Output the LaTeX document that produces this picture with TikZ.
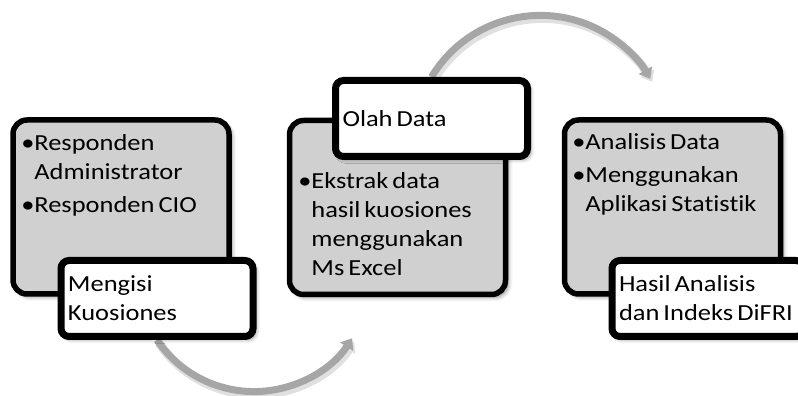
\documentclass[tikz,border=0pt]{standalone}
\usepackage{fontspec}
\setmainfont{Carlito}[FakeStretch=1.15, WordSpace=0.68, RawFeature=-liga]
\usetikzlibrary{arrows.meta,positioning,shadows.blur,backgrounds}

\definecolor{boxgray}{RGB}{208,208,208}
\definecolor{flowgray}{RGB}{166,166,166}

\newcommand{\bulitem}{\makebox[6.5pt][l]{\textbullet}}
\newcommand{\fontspaces}{\spaceskip=0pt\relax}

\begin{document}
\begin{tikzpicture}[
	x=0.5pt, y=0.5pt,
	stage/.style={
		rectangle,
		rounded corners=7pt,
		draw=black,
		line width=2.75pt,
		fill=boxgray,
		minimum width=108pt,
		minimum height=87pt,
		blur shadow={shadow xshift=1.5pt, shadow yshift=-1.5pt, shadow blur radius=2pt, shadow opacity=45}
	},
	tag/.style={
		rectangle,
		rounded corners=4pt,
		draw=black,
		line width=3.5pt,
		fill=white,
		text width=89pt,
		minimum height=38pt,
		align=left,
		inner xsep=3.5pt,
		font=\fontsize{11.5}{14.5}\selectfont,
		execute at begin node=\fontspaces,
		blur shadow={shadow xshift=1.5pt, shadow yshift=-1.5pt, shadow blur radius=2pt, shadow opacity=45}
	},
	items/.style={anchor=north west, inner sep=0pt, font=\fontsize{11.5}{14.5}\selectfont},
	flow/.style={
		-{Triangle[length=5pt,width=7.5pt]},
		line width=3.5pt,
		flowgray,
		preaction={draw=black!12, line width=4.5pt, transform canvas={xshift=1pt,yshift=-1.5pt}}
	}
]
\useasboundingbox (0,0) rectangle (798,396);

% stages
\node[stage] (isibox) at (121,189) {};
\node[stage] (olahbox) at (397.5,188.5) {};
\node[stage] (hasilbox) at (672.5,189) {};

\node[items] (isiitems) at (21,266) {\begin{tabular}{@{}l@{}l@{}}
	\bulitem & Responden\\
	& Administrator\\[2pt]
	\bulitem & Responden CIO
\end{tabular}};
\node[items] (olahitems) at (298,228) {\begin{tabular}{@{}l@{}l@{}}
	\bulitem & Ekstrak data\\
	& hasil kuosiones\\
	& menggunakan\\
	& Ms Excel
\end{tabular}};
\node[items] (hasilitems) at (572,267) {\begin{tabular}{@{}l@{}l@{}}
	\bulitem & Analisis Data\\[2pt]
	\bulitem & Menggunakan\\
	& Aplikasi Statistik
\end{tabular}};

% labels
\node[tag] (isi) at (157,97.5) {Mengisi\\Kuosiones};
\node[tag] (olah) at (431.5,277.5) {Olah Data};
\node[tag] (hasil) at (708,97.5) {Hasil Analisis\\\mbox{dan Indeks DiFRI}};

% arrows
\begin{scope}[on background layer]
\draw[flow] (olah.north) arc[start angle=149, end angle=30, radius=127];
\draw[flow] (isi.south) arc[start angle=214, end angle=327, radius=117];
\end{scope}
\end{tikzpicture}
\end{document}
